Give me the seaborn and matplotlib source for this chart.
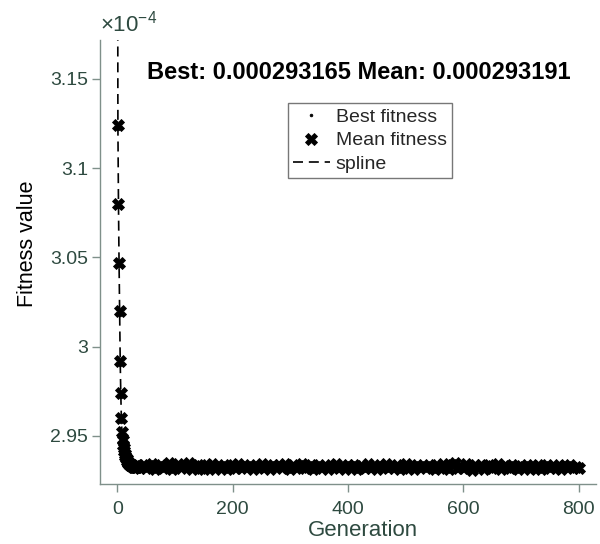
import matplotlib
matplotlib.use("Agg")
import matplotlib.pyplot as plt
import seaborn as sns
import pandas as pd
from matplotlib.ticker import FuncFormatter

# ---------- data (fitness values in units of 1e-4) ----------
early_gen = list(range(0, 35))
early_mean = [3.25, 3.124, 3.080, 3.047, 3.020, 2.992, 2.974, 2.960, 2.952,
              2.9475, 2.9450, 2.9430, 2.9415, 2.9400, 2.9390, 2.9378, 2.9370,
              2.9362, 2.9356, 2.9350, 2.9346, 2.9342, 2.9340, 2.9337, 2.9335,
              2.9333, 2.9331, 2.9330, 2.9329, 2.9328, 2.9330, 2.9327, 2.9329,
              2.9326, 2.9328]

plateau_gen = list(range(35, 801, 5))
plateau_mean = [
    2.9336, 2.9321, 2.9340, 2.9318, 2.9331, 2.9344, 2.9316, 2.9329, 2.9338, 2.9320,
    2.9333, 2.9346, 2.9317, 2.9327, 2.9341, 2.9319, 2.9335, 2.9325, 2.9348, 2.9314,
    2.9330, 2.9339, 2.9322, 2.9315, 2.9337, 2.9328, 2.9343, 2.9317, 2.9332, 2.9324,
    2.9340, 2.9313, 2.9329, 2.9336, 2.9321, 2.9345, 2.9318, 2.9331, 2.9326, 2.9338,
    2.9315, 2.9334, 2.9327, 2.9342, 2.9320, 2.9330, 2.9316, 2.9339, 2.9325, 2.9335,
    2.9318, 2.9341, 2.9328, 2.9313, 2.9336, 2.9323, 2.9333, 2.9344, 2.9319, 2.9329,
    2.9337, 2.9316, 2.9326, 2.9340, 2.9321, 2.9332, 2.9314, 2.9338, 2.9327, 2.9343,
    2.9320, 2.9331, 2.9317, 2.9335, 2.9324, 2.9339, 2.9315, 2.9328, 2.9334, 2.9319,
    2.9342, 2.9322, 2.9330, 2.9313, 2.9337, 2.9326, 2.9341, 2.9318, 2.9333, 2.9323,
    2.9336, 2.9315, 2.9329, 2.9344, 2.9320, 2.9332, 2.9317, 2.9339, 2.9325, 2.9334,
    2.9318, 2.9340, 2.9327, 2.9314, 2.9336, 2.9322, 2.9345, 2.9329, 2.9316, 2.9338,
    2.9347, 2.9321, 2.9333, 2.9318, 2.9341, 2.9326, 2.9312, 2.9335, 2.9323, 2.9339,
    2.9316, 2.9330, 2.9337, 2.9320, 2.9328, 2.9342, 2.9315, 2.9333, 2.9325, 2.9319,
    2.9338, 2.9324, 2.9313, 2.9334, 2.9327, 2.9340, 2.9317, 2.9331, 2.9321, 2.9336,
    2.9314, 2.9329, 2.9339, 2.9319, 2.9332, 2.9322, 2.9337, 2.9316, 2.9330, 2.9326,
    2.9335, 2.9318, 2.9328, 2.9323,
]

best_gen = [1, 2, 3, 4, 5, 6, 7, 8, 10, 15, 20, 30, 50, 100, 200, 300, 400, 500, 600, 700, 800]
best_val = [3.122, 3.078, 3.045, 3.018, 2.990, 2.972, 2.958, 2.950, 2.944, 2.937,
            2.934, 2.9325, 2.9322, 2.9320, 2.9319, 2.9318, 2.9318, 2.9317, 2.9317,
            2.9317, 2.9317]

spline_gen = [0, 1, 2, 3, 4, 5, 6, 7, 8, 10, 15, 20, 30, 50, 100, 200, 400, 600, 800]
spline_val = [3.40, 3.124, 3.080, 3.047, 3.020, 2.992, 2.974, 2.960, 2.952, 2.945,
              2.937, 2.934, 2.933, 2.933, 2.933, 2.9328, 2.9326, 2.9327, 2.9326]

title_text = "Best: 0.000293165 Mean: 0.000293191"
y_ticks = [2.95, 3.0, 3.05, 3.1, 3.15]
x_ticks = [0, 200, 400, 600, 800]

mean_df = pd.DataFrame({"gen": early_gen + plateau_gen,
                        "fit": early_mean + plateau_mean})
best_df = pd.DataFrame({"gen": best_gen, "fit": best_val})
spline_df = pd.DataFrame({"gen": spline_gen, "fit": spline_val})

# ---------- style ----------
sns.set_style("white")
plt.rcParams["font.family"] = ["Liberation Sans", "DejaVu Sans"]
plt.rcParams["mathtext.fontset"] = "custom"
plt.rcParams["mathtext.rm"] = "Liberation Sans"
plt.rcParams["mathtext.it"] = "Liberation Sans"

tick_col = "#2e4a40"
spine_col = "#7f908a"

fig = plt.figure(figsize=(6, 5.44), dpi=100)
ax = fig.add_axes([0.1667, 0.1103, 0.8267, 0.8162])

sns.lineplot(data=best_df, x="gen", y="fit", ax=ax, estimator=None, sort=False,
             color="black", linestyle="", marker=".", markersize=4,
             markeredgecolor="black", markeredgewidth=0.5,
             label="Best fitness", zorder=3)
sns.lineplot(data=mean_df, x="gen", y="fit", ax=ax, estimator=None, sort=False,
             color="black", linestyle="", marker="X", markersize=8.5,
             markeredgecolor="black", markeredgewidth=0.6,
             label="Mean fitness", zorder=3)
sns.lineplot(data=spline_df, x="gen", y="fit", ax=ax, estimator=None, sort=False,
             color="black", linewidth=1.2, dashes=False, label="spline", zorder=2)
ax.lines[-1].set_dashes([6, 3.5])

ax.set_xlim(-30, 830)
ax.set_ylim(2.9231, 3.1718)
ax.set_xticks(x_ticks)
ax.set_yticks(y_ticks)
ax.yaxis.set_major_formatter(FuncFormatter(lambda v, p: f"{v:g}"))

for s in ["top", "right"]:
    ax.spines[s].set_visible(False)
for s in ["left", "bottom"]:
    ax.spines[s].set_color(spine_col)
    ax.spines[s].set_linewidth(1.0)

ax.tick_params(axis="both", which="major", direction="out", length=5.5,
               width=1.0, color=spine_col, labelcolor=tick_col, labelsize=14,
               left=True, bottom=True)
ax.tick_params(axis="x", pad=7)
ax.tick_params(axis="y", pad=3)

ax.set_xlabel("Generation", fontsize=16, color=tick_col, labelpad=1, x=0.53)
ax.set_ylabel("Fitness value", fontsize=15.5, color="black", labelpad=9, y=0.54)

ax.text(0.0, 1.008, r"$\times$10$^{-4}$", transform=ax.transAxes,
        ha="left", va="bottom", fontsize=16, color=tick_col)

ax.text(0.521, 0.926, title_text, transform=ax.transAxes, ha="center",
        va="center", fontsize=17, fontweight="bold", color="black")

leg = ax.legend(loc="upper left", bbox_to_anchor=(0.379, 0.857), fontsize=14,
                frameon=True, fancybox=False, edgecolor="#555555",
                borderpad=0.25, labelspacing=0.3, handlelength=1.9,
                handletextpad=0.3, borderaxespad=0.0)
leg.get_frame().set_linewidth(1.0)

fig.savefig("out.png", dpi=100)
